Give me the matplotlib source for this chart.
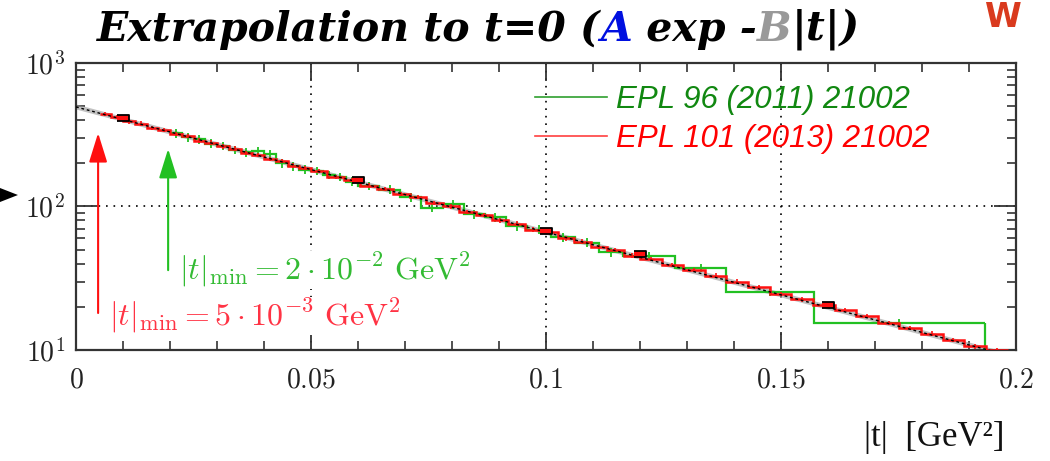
import numpy as np
import matplotlib.pyplot as plt
from matplotlib.lines import Line2D
from matplotlib.patches import Polygon
from matplotlib.ticker import LogLocator, MultipleLocator, NullFormatter, FixedLocator

plt.rcParams['mathtext.fontset'] = 'cm'

# EPL 101 (2013) 21002 : |t| bin edges [GeV^2] and dsigma/dt [mb/GeV^2]
red_edges = [0.005, 0.0075, 0.010, 0.0125, 0.015, 0.0175, 0.020, 0.0225, 0.025,
             0.0275, 0.030, 0.0325, 0.035, 0.0375, 0.040, 0.0425, 0.045, 0.0475,
             0.050, 0.0535, 0.057, 0.0605, 0.064, 0.0675, 0.071, 0.0745, 0.078,
             0.0815, 0.085, 0.0885, 0.092, 0.0955, 0.099, 0.1025, 0.106, 0.1095,
             0.113, 0.1165, 0.120, 0.1246, 0.1292, 0.1338, 0.1384, 0.1430, 0.1476,
             0.1522, 0.1568, 0.1614, 0.1660, 0.1706, 0.1752, 0.1798, 0.1844,
             0.1890, 0.1936, 0.1982]
red_vals = [442, 420, 392, 378, 352, 342, 320, 309, 288, 279, 262, 253, 236, 228,
            214, 207, 193, 186,
            176, 161, 153, 140, 133, 122, 116, 106, 100, 92, 87, 80, 76, 69, 66,
            60, 57, 52, 50, 45.5,
            43, 39, 36, 33, 30, 27.5, 24.5, 22.5, 20.5, 19, 17.2, 15.5, 14.2, 13,
            11.8, 10.6, 10.0]
red_rel_err = 0.035

# EPL 96 (2011) 21002
green_edges = [0.020, 0.0225, 0.025, 0.0275, 0.030, 0.0325, 0.035, 0.0375, 0.040,
               0.0425, 0.045, 0.0475, 0.050, 0.0525, 0.055, 0.0575, 0.060,
               0.0645, 0.069, 0.0735, 0.078, 0.0825, 0.087, 0.0915, 0.096,
               0.1011, 0.1062, 0.1113, 0.1164, 0.1275, 0.1383, 0.157, 0.1934]
green_vals = [325, 304, 293, 274, 265, 248, 238, 242, 233, 200, 190, 181, 177, 166,
              161, 149,
              139, 131, 116, 98, 104, 88, 84, 73,
              69, 61, 56, 48,
              45.2, 37.3, 25.4, 15.4]
green_rel_err = 0.07

# exponential extrapolation A exp(-B|t|)
fit_A = 494.0
fit_B = 20.1
fit_tmax = 0.195

# points marked on the fit
point_t = [0.01, 0.06, 0.10, 0.12, 0.16]
point_val = [412, 152, 68, 46.5, 20.6]

# |t|_min arrows: position, tail and head values
red_tmin, red_arrow = 0.0047, (18.1, 325)
green_tmin, green_arrow = 0.0196, (36, 252)

fig = plt.figure(figsize=(10.5, 4.61), dpi=100)
ax = fig.add_axes([0.0724, 0.2408, 0.8952, 0.6226])
ax.set_yscale('log')
ax.set_xlim(0, 0.2)
ax.set_ylim(10, 1000)

c_red = '#ff1010'
c_green = '#22c022'

# fit line with a grey band under it
t_fit = np.linspace(0, fit_tmax, 300)
ax.plot(t_fit, fit_A * np.exp(-fit_B * t_fit), color='#999999', lw=3.5, alpha=0.6, zorder=2)

# histograms
g_edges = np.array(green_edges)
g_vals = np.array(green_vals)
ax.stairs(g_vals, g_edges, baseline=None, color=c_green, lw=1.6, zorder=3)
ax.vlines(g_edges[-1], 10, g_vals[-1], color=c_green, lw=1.6, zorder=3)
ax.errorbar(0.5 * (g_edges[1:] + g_edges[:-1]), g_vals, yerr=g_vals * green_rel_err,
            fmt='none', ecolor=c_green, elinewidth=1.3, capsize=0, zorder=3)

r_edges = np.array(red_edges)
r_vals = np.array(red_vals)
ax.stairs(r_vals, r_edges, baseline=None, color=c_red, lw=1.8, zorder=4)
ax.errorbar(0.5 * (r_edges[1:] + r_edges[:-1]), r_vals, yerr=r_vals * red_rel_err,
            fmt='none', ecolor=c_red, elinewidth=1.2, capsize=0, zorder=4)

ax.plot(t_fit, fit_A * np.exp(-fit_B * t_fit), color='black', lw=1.0,
        ls=(0, (2, 2)), zorder=5)

rect = [(-1.6, -1), (1.6, -1), (1.6, 1), (-1.6, 1)]
ax.plot(point_t, point_val, ls='none', marker=rect, ms=8, mfc=c_red, mec='black',
        mew=1.3, zorder=6)

# |t|_min arrows and labels
arrow_style = '-|>,head_length=0.9,head_width=0.28'
ax.annotate('', xy=(red_tmin, red_arrow[1]), xytext=(red_tmin, red_arrow[0]),
            arrowprops=dict(arrowstyle=arrow_style, color=c_red, lw=1.5,
                            mutation_scale=20, shrinkA=0, shrinkB=0))
ax.annotate('', xy=(green_tmin, green_arrow[1]), xytext=(green_tmin, green_arrow[0]),
            arrowprops=dict(arrowstyle=arrow_style, color=c_green, lw=1.5,
                            mutation_scale=20, shrinkA=0, shrinkB=0))

ax.text(0.0219, 36, r'$|t|_{\rm min} = 2 \cdot 10^{-2}\ {\rm GeV}^2$', color='#33bb33',
        fontsize=23, va='center', ha='left', zorder=7,
        bbox=dict(facecolor='white', edgecolor='none', pad=0))
ax.text(0.0071, 17.3, r'$|t|_{\rm min} = 5 \cdot 10^{-3}\ {\rm GeV}^2$', color='#ff3344',
        fontsize=23, va='center', ha='left', zorder=7,
        bbox=dict(facecolor='white', edgecolor='none', pad=0))

# legend
handles = [Line2D([], [], color='#2f9f2f', lw=1.2),
           Line2D([], [], color='#ff4040', lw=1.2)]
leg = ax.legend(handles, ['EPL 96 (2011) 21002', 'EPL 101 (2013) 21002'],
                loc='upper left', bbox_to_anchor=(0.465, 1.0), frameon=False,
                handlelength=2.3, handletextpad=0.3, labelspacing=0.3,
                borderaxespad=0.3,
                prop=dict(family='Liberation Sans', style='italic', size=22.5))
for txt, col in zip(leg.get_texts(), ['#118811', '#ff0000']):
    txt.set_color(col)

# axes, ticks, grid
ax.set_xticks([0, 0.05, 0.1, 0.15, 0.2])
ax.set_xticklabels([r'$0$', r'$0.05$', r'$0.1$', r'$0.15$', r'$0.2$'])
ax.xaxis.set_minor_locator(MultipleLocator(0.01))
ax.yaxis.set_major_locator(FixedLocator([10, 100, 1000]))
ax.set_yticklabels([r'$10^1$', r'$10^2$', r'$10^3$'])
ax.yaxis.set_minor_locator(LogLocator(base=10, subs=np.arange(2, 10)))
ax.yaxis.set_minor_formatter(NullFormatter())
ax.tick_params(which='both', direction='in', top=True, right=True, colors='#333333',
               labelcolor='#222222', labelsize=20)
ax.tick_params(axis='x', which='major', length=13, width=1.3, pad=11)
ax.tick_params(axis='y', which='major', length=16, width=1.3, pad=8)
ax.tick_params(which='minor', length=6.5, width=1.2)
ax.grid(True, which='major', ls=(0, (1, 3.5)), color='black', lw=1.2)
for sp in ax.spines.values():
    sp.set_linewidth(1.6)
    sp.set_color('#333333')

fig.text(0.957, 0.052, '|t|  [GeV²]', family='Liberation Serif', fontsize=25,
         ha='right', va='center', color='#111111')

# title, drawn piece by piece to colour A and B
title_parts = ['Extrapolation to t=0 (', 'A', ' exp -', 'B', '|t|)']
title_colors = ['black', '#0010e0', 'black', '#999999', 'black']
renderer = fig.canvas.get_renderer()
x = 97
for part, col in zip(title_parts, title_colors):
    t = fig.text(x / 1050, 0.936, part, family='DejaVu Serif', fontsize=29.5,
                 weight='bold', style='italic', color=col, va='center', ha='left')
    x += t.get_window_extent(renderer).width

# logo corner and side marker
fig.text(1003 / 1050, 0.998, 'W', color='#d93a1e', fontsize=24, weight='bold',
         family='Liberation Sans Narrow', ha='center', va='top')
fig.patches.append(Polygon([(0, 0.5922), (0.0171, 0.577), (0, 0.5618)], closed=True,
                           transform=fig.transFigure, facecolor='black',
                           edgecolor='none'))

fig.savefig('out.png', dpi=100)
